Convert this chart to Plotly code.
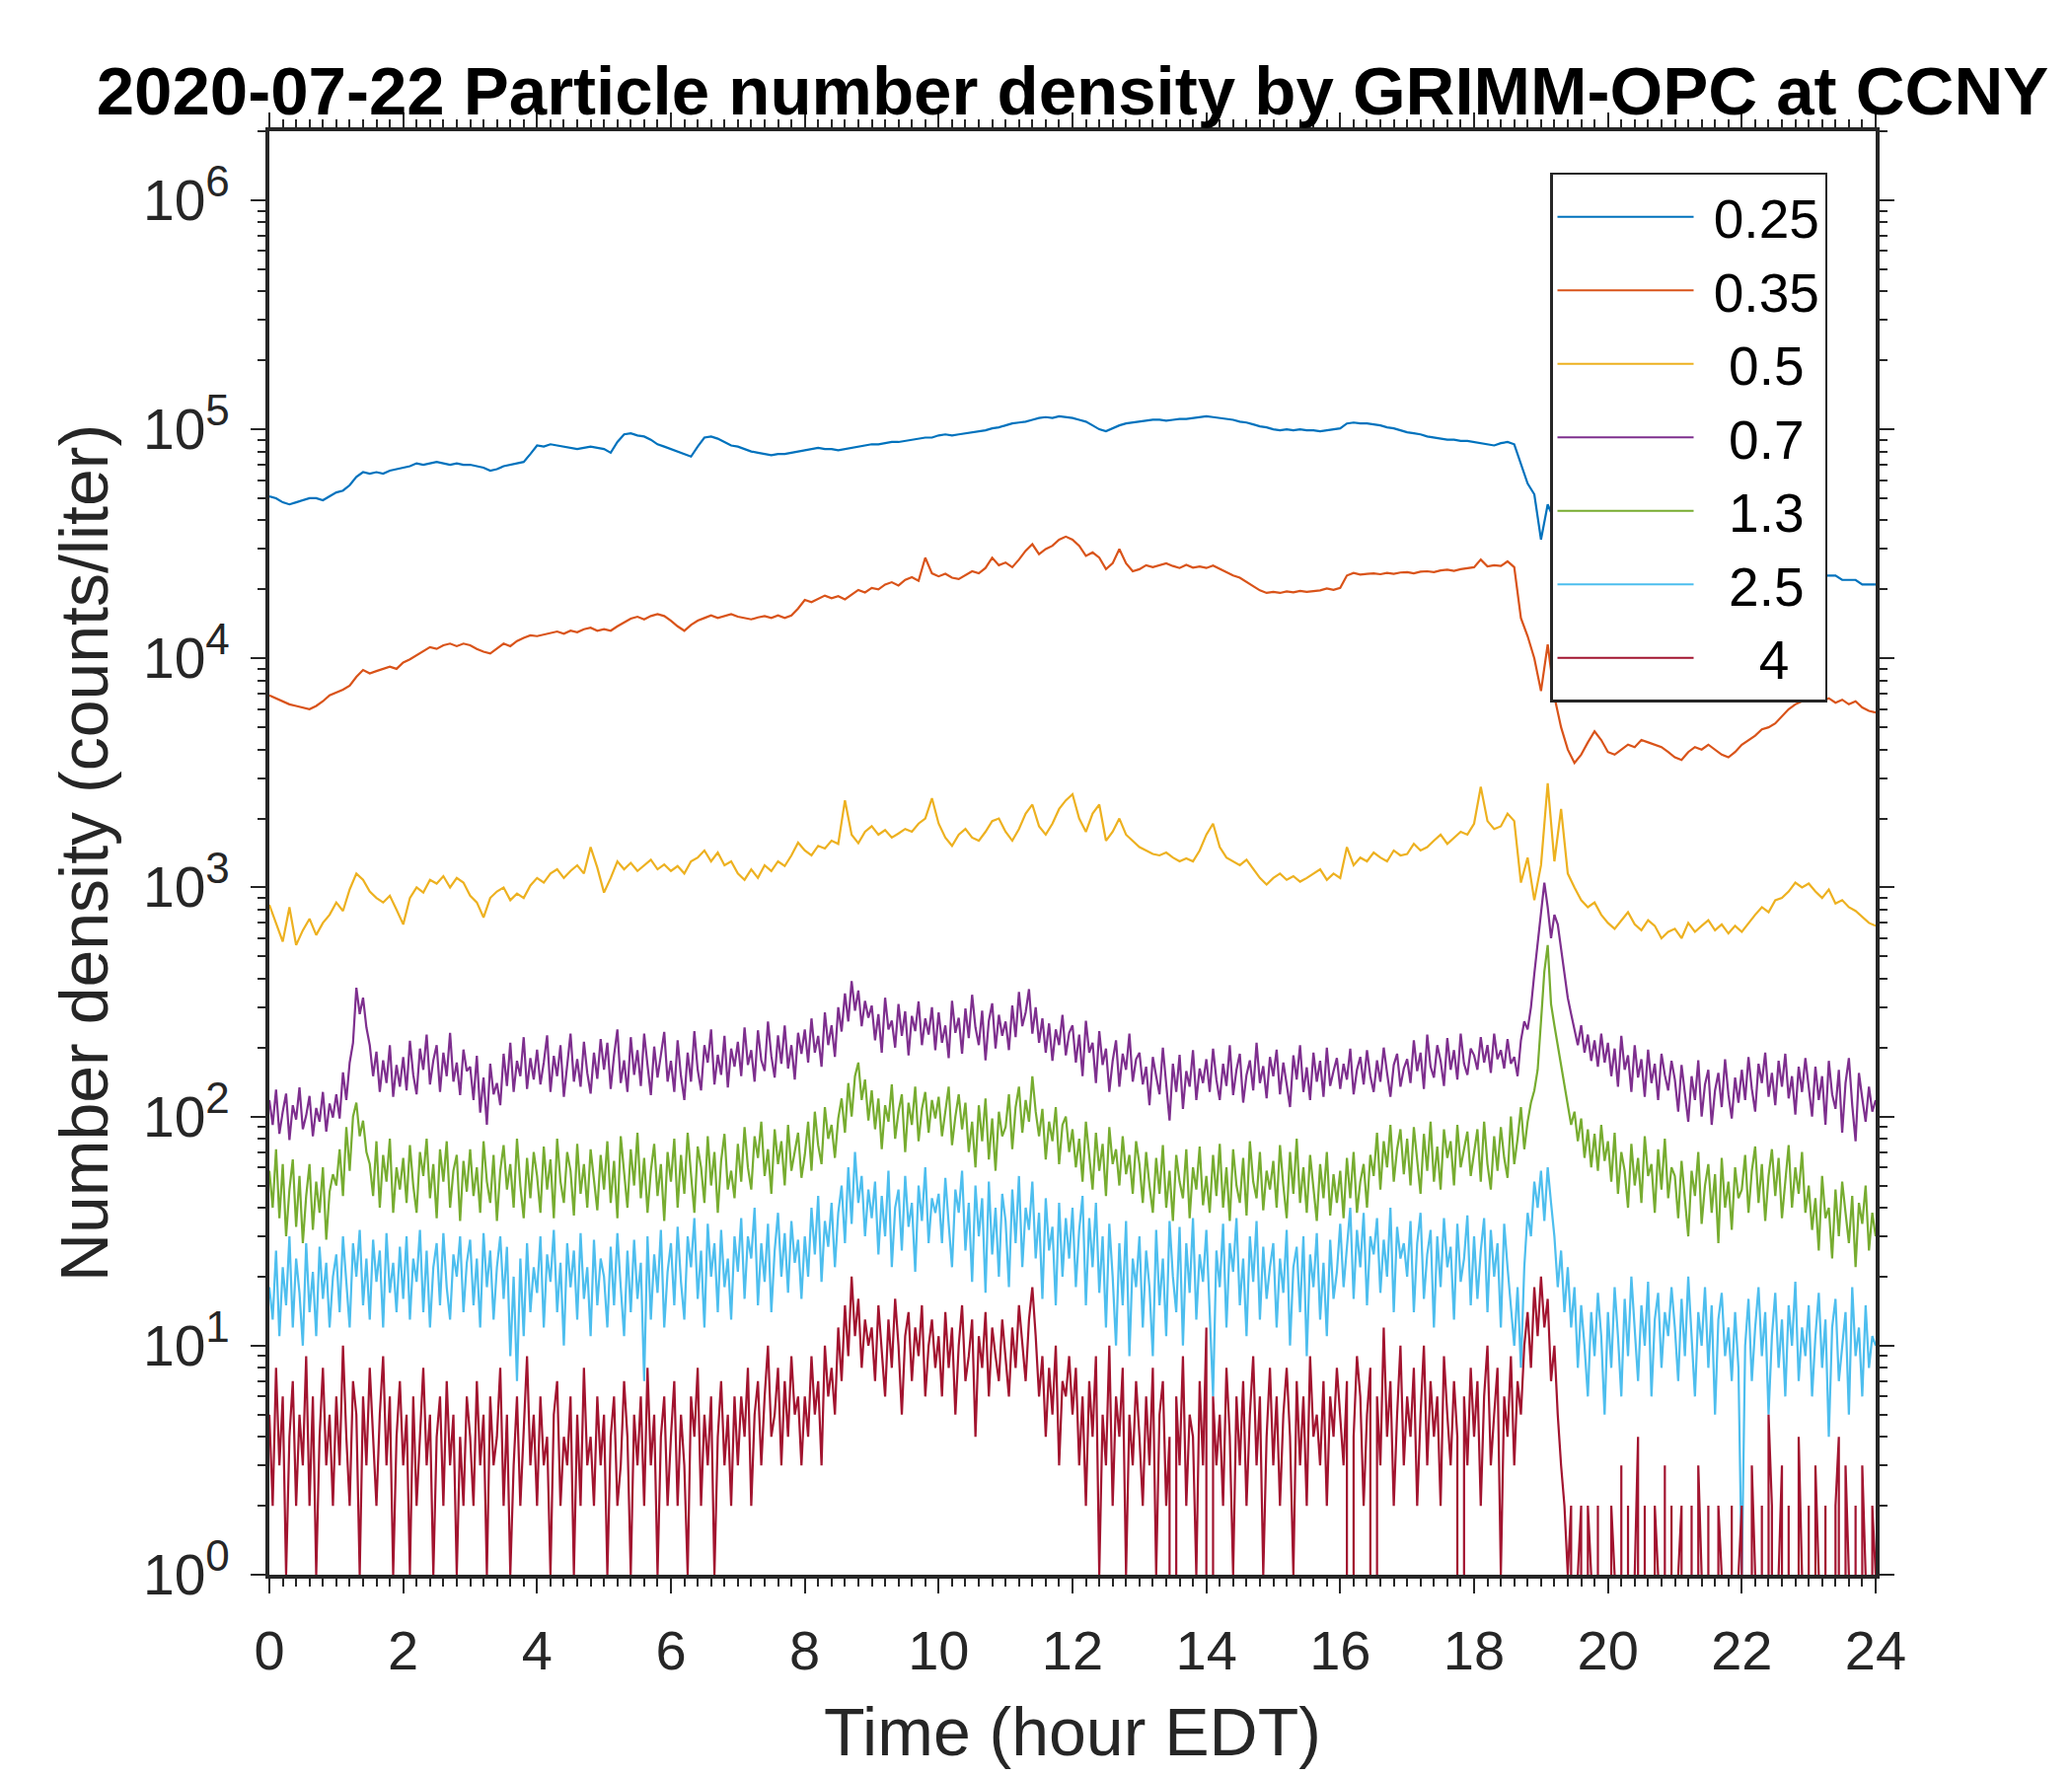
import plotly.graph_objects as go

# ---------------- data (counts per liter) ----------------
# 0.25, 0.35 and 0.5 um channels: one value every 0.1 h (0.0 ... 24.0)
n_025 = [
    51000, 50000, 48000, 47000, 48000, 49000, 50000, 50000, 49000, 51000,
    53000, 54000, 57000, 62000, 65000, 64000, 65000, 64000, 66000, 67000,
    68000, 69000, 71000, 70000, 71000, 72000, 71000, 70000, 71000, 70000,
    70000, 69000, 68000, 66000, 67000, 69000, 70000, 71000, 72000, 78000,
    85000, 84000, 86000, 85000, 84000, 83000, 82000, 83000, 84000, 83000,
    82000, 79000, 88000, 95000, 96000, 94000, 93000, 90000, 86000, 84000,
    82000, 80000, 78000, 76000, 84000, 92000, 93000, 91000, 88000, 85000,
    84000, 82000, 80000, 79000, 78000, 77000, 78000, 78000, 79000, 80000,
    81000, 82000, 83000, 82000, 82000, 81000, 82000, 83000, 84000, 85000,
    86000, 86000, 87000, 88000, 88000, 89000, 90000, 91000, 92000, 92000,
    94000, 95000, 94000, 95000, 96000, 97000, 98000, 99000, 101000, 102000,
    104000, 106000, 107000, 108000, 110000, 112000, 113000, 112000, 114000, 113000,
    112000, 110000, 108000, 104000, 100000, 98000, 101000, 104000, 106000, 107000,
    108000, 109000, 110000, 110000, 109000, 110000, 111000, 111000, 112000, 113000,
    114000, 113000, 112000, 111000, 110000, 108000, 107000, 105000, 103000, 102000,
    100000, 99000, 100000, 99000, 100000, 99000, 99000, 98000, 99000, 100000,
    101000, 106000, 107000, 106000, 106000, 105000, 104000, 102000, 101000, 99000,
    97000, 96000, 95000, 93000, 92000, 91000, 90000, 90000, 89000, 89000,
    88000, 87000, 86000, 85000, 87000, 88000, 86000, 70000, 58000, 52000,
    33000, 47000, 40000, 36000, 32000, 30000, 29000, 30000, 31000, 30000,
    29000, 28000, 28000, 27000, 27000, 26000, 27000, 28000, 27000, 26000,
    26000, 25000, 25000, 26000, 26000, 25000, 24000, 24000, 25000, 25000,
    25000, 24000, 24000, 25000, 25000, 24000, 24000, 23000, 24000, 24000,
    24000, 24000, 23000, 23000, 23000, 22000, 22000, 22000, 21000, 21000,
    21000,
]

n_035 = [
    6900, 6700, 6500, 6300, 6200, 6100, 6000, 6200, 6500, 6900,
    7100, 7300, 7600, 8300, 8900, 8600, 8800, 9000, 9200, 9000,
    9600, 9900, 10300, 10800, 11200, 11000, 11400, 11600, 11300, 11600,
    11400, 11000, 10700, 10500, 11000, 11600, 11300, 11900, 12300, 12600,
    12500, 12700, 12900, 13100, 12800, 13200, 13000, 13400, 13600, 13200,
    13400, 13200, 13800, 14400, 14900, 15200, 14800, 15300, 15600, 15300,
    14600, 13800, 13200, 14000, 14600, 15000, 15400, 15000, 15300, 15600,
    15200, 15000, 14800, 15100, 15300, 15000, 15400, 15000, 15400, 16500,
    18000, 17600, 18200, 18800, 18300, 18700, 18100, 19000, 19900, 19400,
    20300, 20000, 21000, 21500, 20800, 22000, 22600, 21800, 27500, 23500,
    22800, 23400, 22500, 22200, 23000, 24000, 23500, 24800, 27500, 25500,
    26200, 25000, 27000, 29500, 31500, 28500, 30000, 31000, 33000, 34000,
    33000, 31000, 28000, 29000, 27500, 24500, 26000, 30000, 26000, 24000,
    24500, 25500, 25000, 25500, 26000, 25300, 24800, 25600, 24900, 25200,
    24800, 25400, 24600, 23800, 23000, 22500, 21600, 20800, 19800, 19300,
    19500, 19300, 19600, 19400, 19700, 19500, 19600, 19800, 20200, 19900,
    20300, 23000, 23600, 23200, 23400, 23500, 23300, 23600, 23400, 23700,
    23800, 23500, 23900, 24000, 23800, 24200, 24400, 24100, 24500, 24700,
    25000, 27000, 25200, 25500, 25300, 26500, 25000, 15000, 12500, 10000,
    7200, 11500, 6800, 5000, 4000, 3500, 3800, 4300, 4800, 4400,
    3900, 3800, 4000, 4200, 4100, 4400, 4300, 4200, 4100, 3900,
    3700, 3600, 3900, 4100, 4000, 4200, 4000, 3800, 3700, 3900,
    4200, 4400, 4600, 4900, 5000, 5200, 5600, 6000, 6300, 6500,
    6600, 6800, 6500, 6700, 6400, 6600, 6300, 6500, 6100, 5900,
    5800,
]

n_05 = [
    840, 700, 580, 820, 560, 650, 730, 620, 700, 760,
    860, 790, 980, 1150, 1080, 960, 900, 860, 920, 800,
    690, 900, 1000, 950, 1080, 1040, 1120, 1000, 1100, 1050,
    920, 860, 740, 900, 960, 1000, 880, 940, 900, 1020,
    1100, 1050, 1150, 1200, 1100, 1180, 1250, 1150, 1500, 1220,
    950, 1100, 1300, 1200, 1280, 1180, 1250, 1320, 1200, 1260,
    1180, 1240, 1150, 1300, 1350, 1450, 1300, 1420, 1250, 1300,
    1150, 1080, 1200, 1100, 1250, 1180, 1300, 1240, 1380, 1570,
    1450, 1380, 1520, 1480, 1600, 1550, 2400, 1700, 1560, 1750,
    1850, 1700, 1780, 1650, 1720, 1800, 1750, 1900, 2000, 2450,
    1900, 1650, 1520, 1700, 1800, 1650, 1600, 1750, 1950, 2000,
    1750, 1600, 1800, 2100, 2300, 1850, 1700, 1900, 2200, 2400,
    2550, 2000, 1750, 2100, 2300, 1600, 1750, 2000, 1700, 1600,
    1500, 1450, 1400, 1380, 1420, 1350, 1300, 1340, 1300, 1450,
    1700, 1900, 1500, 1350, 1300, 1250, 1320, 1200, 1100, 1030,
    1100, 1150, 1080, 1120, 1060, 1100, 1150, 1200, 1080, 1150,
    1100, 1500, 1250, 1350, 1300, 1420, 1350, 1300, 1450, 1380,
    1400, 1550, 1450, 1500, 1600, 1700, 1550, 1650, 1750, 1700,
    1900, 2750, 1950, 1800, 1850, 2100, 1950, 1050, 1350, 880,
    1250, 2850, 1300, 2200, 1150, 1000, 880, 820, 860, 760,
    700, 660, 720, 780, 690, 650, 720, 680, 600, 640,
    660, 600, 700, 640, 680, 720, 650, 690, 630, 680,
    640, 700, 760, 820, 780, 880, 900, 960, 1050, 1000,
    1040, 960, 900, 980, 850, 880, 820, 790, 740, 700,
    680,
]

# 0.7, 1.3, 2.5 and 4 um channels: one value every 0.05 h (0.00 ... 24.00)
n_07 = [
    118, 92, 131, 84, 105, 126, 79, 112, 97, 134, 88, 101, 123, 82, 109, 95, 128, 86, 114, 99,
    125, 98, 156, 118, 172, 210, 365, 280, 330, 245, 205, 150, 192, 128, 176, 140, 205, 122, 168, 135,
    182, 130, 214, 152, 125, 198, 160, 228, 138, 176, 205, 128, 190, 150, 232, 142, 172, 124, 196, 158,
    165, 118, 184, 104, 148, 92, 170, 125, 140, 112, 188, 136, 210, 128, 175, 150, 222, 132, 180, 145,
    196, 138, 172, 226, 128, 184, 150, 205, 122, 166, 230, 142, 178, 135, 212, 155, 126, 190, 146, 218,
    160, 210, 132, 185, 240, 140, 176, 128, 222, 152, 195, 136, 230, 168, 124, 202, 148, 186, 234, 142,
    175, 128, 215, 150, 118, 190, 142, 236, 160, 130, 205, 172, 240, 138, 186, 152, 225, 134, 198, 165,
    212, 150, 245, 168, 195, 142, 238, 176, 158, 260, 184, 148, 226, 170, 250, 162, 205, 145, 232, 188,
    240, 172, 268, 190, 225, 165, 285, 205, 250, 182, 300, 235, 345, 260, 390, 290, 355, 248, 320, 270,
    305, 215, 280, 190, 330, 240, 262, 200, 310, 225, 288, 185, 275, 236, 318, 205, 268, 228, 300, 195,
    285, 210, 250, 180, 320, 232, 270, 188, 296, 220, 340, 245, 205, 290, 176, 262, 312, 198, 278, 225,
    260, 195, 305, 222, 350, 248, 285, 360, 230, 300, 210, 268, 190, 255, 175, 240, 205, 278, 185, 232,
    250, 172, 228, 150, 262, 190, 210, 140, 236, 168, 198, 128, 175, 215, 135, 188, 160, 230, 142, 178,
    190, 138, 165, 112, 182, 150, 125, 200, 142, 96, 170, 128, 186, 108, 158, 135, 195, 118, 162, 140,
    178, 128, 198, 145, 118, 170, 136, 205, 124, 160, 188, 115, 152, 176, 130, 210, 140, 166, 120, 182,
    150, 196, 125, 172, 138, 110, 185, 145, 205, 128, 164, 118, 190, 142, 175, 122, 200, 136, 158, 180,
    132, 170, 145, 198, 125, 160, 182, 138, 195, 150, 128, 176, 142, 200, 155, 122, 168, 188, 135, 162,
    178, 140, 215, 158, 190, 132, 228, 165, 148, 205, 175, 136, 220, 160, 195, 145, 230, 170, 152, 198,
    185, 160, 222, 172, 205, 155, 230, 178, 195, 162, 218, 170, 182, 150, 215, 260, 240, 300, 420, 560,
    780, 1050, 820, 600, 760, 690, 540, 420, 330, 280, 240, 205, 250, 190, 228, 175, 215, 165, 230, 172,
    210, 150, 198, 135, 225, 160, 185, 128, 205, 148, 178, 122, 196, 140, 170, 118, 188, 152, 130, 175,
    145, 105, 168, 122, 95, 150, 118, 176, 100, 138, 160, 92, 130, 155, 110, 178, 125, 98, 148, 115,
    160, 118, 182, 132, 105, 170, 140, 190, 122, 155, 112, 175, 135, 188, 120, 150, 102, 165, 128, 180,
    138, 100, 165, 118, 150, 92, 175, 125, 108, 160, 85, 140, 180, 112, 78, 155, 120, 95, 135, 105,
    118,
]

n_13 = [
    58, 40, 72, 36, 62, 30, 48, 65, 33, 55, 28, 45, 62, 32, 52, 38, 60, 29, 47, 56,
    50, 72, 45, 90, 58, 100, 115, 82, 96, 70, 62, 45, 78, 40, 68, 52, 80, 38, 60, 48,
    66, 42, 75, 50, 38, 70, 55, 80, 44, 62, 36, 72, 52, 78, 40, 58, 68, 35, 64, 47,
    72, 45, 60, 38, 78, 52, 42, 68, 35, 58, 75, 48, 62, 40, 80, 50, 36, 66, 44, 70,
    55, 38, 74, 48, 65, 36, 80, 52, 42, 70, 58, 37, 76, 46, 62, 40, 72, 54, 39, 68,
    48, 78, 42, 64, 36, 82, 55, 40, 72, 50, 85, 44, 66, 38, 58, 76, 45, 62, 35, 70,
    52, 80, 40, 68, 46, 85, 56, 38, 74, 60, 42, 82, 50, 70, 38, 64, 84, 48, 58, 44,
    76, 52, 90, 60, 48, 82, 66, 95, 55, 72, 46, 88, 62, 78, 50, 92, 58, 70, 85, 54,
    68, 95, 58, 105, 75, 62, 110, 80, 92, 66, 98, 120, 85, 140, 100, 150, 172, 118, 145, 96,
    130, 88, 120, 72, 112, 95, 138, 80, 105, 125, 70, 115, 92, 135, 78, 108, 128, 85, 118, 98,
    122, 82, 108, 135, 75, 100, 125, 88, 115, 70, 95, 60, 112, 78, 120, 65, 98, 58, 105, 82,
    90, 125, 72, 110, 135, 85, 118, 95, 150, 105, 82, 108, 65, 95, 78, 110, 62, 92, 100, 70,
    88, 60, 80, 52, 95, 68, 48, 85, 58, 76, 45, 90, 62, 72, 50, 82, 56, 68, 46, 78,
    62, 42, 70, 50, 38, 66, 46, 75, 40, 58, 35, 68, 52, 44, 72, 36, 60, 48, 74, 41,
    55, 38, 68, 45, 76, 40, 60, 35, 72, 50, 42, 66, 37, 78, 52, 44, 70, 39, 58, 48,
    64, 40, 75, 50, 36, 70, 46, 80, 42, 60, 38, 68, 48, 35, 62, 44, 70, 37, 56, 42,
    58, 36, 66, 44, 70, 38, 52, 62, 40, 68, 55, 85, 48, 78, 60, 92, 52, 72, 88, 56,
    80, 50, 90, 62, 46, 84, 58, 95, 52, 74, 48, 88, 66, 78, 50, 92, 60, 72, 86, 55,
    70, 88, 52, 95, 62, 48, 82, 58, 90, 66, 54, 100, 62, 80, 110, 72, 95, 115, 130, 160,
    260, 430, 560, 310, 250, 205, 165, 135, 112, 92, 105, 78, 98, 66, 88, 60, 84, 58, 92, 64,
    78, 52, 85, 46, 70, 58, 40, 76, 50, 66, 42, 82, 55, 62, 38, 72, 48, 80, 44, 60,
    55, 36, 64, 42, 30, 58, 45, 70, 34, 50, 62, 38, 56, 28, 66, 40, 52, 32, 60, 44,
    48, 68, 38, 58, 74, 42, 62, 35, 55, 72, 45, 66, 36, 52, 75, 40, 60, 46, 70, 38,
    50, 32, 44, 26, 55, 36, 40, 24, 48, 30, 52, 38, 28, 45, 22, 42, 34, 50, 26, 38,
    30,
]

n_25 = [
    18, 13, 26, 11, 22, 15, 30, 12, 24, 17, 10, 28, 14, 21, 11, 27, 16, 23, 12, 20,
    25, 14, 30, 18, 12, 28, 20, 32, 15, 24, 13, 29, 19, 26, 12, 31, 17, 23, 14, 27,
    16, 30, 13, 24, 19, 32, 14, 26, 12, 22, 28, 15, 31, 18, 13, 25, 20, 30, 14, 23,
    29, 15, 24, 12, 31, 18, 26, 13, 22, 30, 16, 27, 9, 20, 7, 24, 11, 28, 14, 22,
    17, 30, 12, 25, 19, 32, 14, 23, 10, 28, 18, 26, 13, 31, 16, 22, 11, 29, 15, 24,
    20, 12, 27, 15, 31, 18, 11, 26, 14, 29, 16, 23, 7, 30, 13, 25, 17, 32, 12, 21,
    28, 15, 33, 19, 13, 30, 22, 36, 16, 26, 12, 34, 20, 28, 14, 32, 18, 24, 13, 30,
    21, 36, 16, 30, 24, 40, 15, 28, 19, 34, 14, 26, 38, 20, 31, 17, 35, 23, 29, 16,
    30, 20, 40, 25, 45, 19, 35, 27, 42, 22, 38, 50, 28, 60, 34, 70, 42, 55, 30, 48,
    36, 52, 25, 45, 30, 58, 22, 40, 48, 26, 55, 33, 42, 21, 50, 35, 60, 28, 44, 38,
    46, 28, 54, 34, 22, 48, 38, 58, 26, 42, 19, 50, 30, 44, 17, 52, 25, 40, 20, 46,
    35, 18, 48, 28, 55, 22, 40, 32, 52, 24, 38, 16, 44, 26, 33, 15, 42, 20, 36, 24,
    40, 18, 32, 45, 15, 36, 22, 42, 17, 30, 12, 34, 20, 10, 28, 15, 35, 9, 24, 18,
    30, 12, 26, 18, 9, 32, 15, 24, 11, 35, 20, 14, 33, 10, 28, 17, 36, 13, 25, 19,
    32, 14, 6, 26, 18, 34, 12, 28, 21, 36, 15, 24, 11, 30, 19, 35, 13, 27, 16, 22,
    28, 12, 24, 17, 32, 10, 22, 27, 14, 30, 9, 25, 18, 31, 13, 23, 11, 29, 16, 21,
    34, 18, 28, 40, 16, 32, 22, 38, 15, 30, 25, 36, 17, 29, 20, 40, 14, 33, 24, 28,
    20, 35, 14, 28, 38, 16, 25, 32, 12, 30, 18, 36, 22, 27, 13, 34, 19, 24, 37, 15,
    30, 16, 26, 36, 14, 32, 20, 28, 12, 34, 22, 15, 10, 18, 8, 22, 38, 30, 52, 40,
    58, 35, 60, 42, 30, 18, 26, 14, 22, 12, 18, 8, 15, 10, 6, 14, 9, 17, 11, 5,
    14, 8, 18, 11, 6, 16, 9, 20, 12, 7, 15, 10, 19, 6, 13, 17, 8, 14, 11, 18,
    12, 7, 16, 9, 20, 11, 6, 14, 10, 18, 8, 15, 5, 13, 17, 9, 12, 7, 14, 8,
    1, 10, 16, 7, 12, 18, 9, 14, 5, 11, 17, 8, 13, 6, 15, 10, 19, 7, 12, 9,
    15, 6, 11, 17, 8, 13, 4, 12, 16, 7, 10, 14, 5, 18, 9, 12, 6, 15, 8, 11,
    10,
]

n_4 = [
    5, 2, 8, 3, 6, 1, 4, 7, 2, 5, 3, 9, 2, 6, 1, 4, 8, 3, 5, 2,
    6, 3, 10, 4, 2, 7, 5, 1, 6, 3, 8, 4, 2, 5, 9, 3, 6, 1, 4, 7,
    3, 5, 1, 6, 2, 4, 8, 3, 5, 1, 4, 6, 2, 7, 3, 5, 1, 4, 2, 6,
    4, 2, 7, 3, 5, 1, 6, 3, 4, 8, 2, 5, 1, 3, 6, 2, 4, 9, 3, 5,
    2, 6, 3, 4, 1, 5, 7, 2, 4, 3, 6, 1, 5, 2, 8, 3, 4, 2, 6, 3,
    5, 1, 4, 6, 2, 3, 7, 4, 1, 5, 3, 6, 2, 8, 3, 5, 1, 4, 6, 2,
    4, 7, 2, 5, 3, 1, 6, 4, 8, 2, 5, 3, 6, 1, 4, 7, 3, 5, 2, 6,
    3, 6, 4, 8, 2, 5, 7, 3, 6, 10, 4, 5, 8, 3, 7, 4, 9, 5, 6, 3,
    6, 4, 9, 5, 7, 3, 10, 6, 8, 5, 12, 7, 15, 9, 20, 11, 16, 8, 13, 10,
    12, 7, 15, 9, 6, 13, 8, 16, 10, 5, 11, 14, 7, 12, 9, 15, 6, 10, 13, 8,
    11, 6, 14, 8, 12, 5, 10, 15, 7, 9, 13, 4, 11, 8, 14, 6, 12, 9, 7, 13,
    9, 6, 12, 8, 15, 10, 7, 13, 18, 11, 6, 9, 4, 8, 5, 10, 3, 7, 6, 9,
    5, 8, 3, 6, 2, 7, 4, 9, 1, 5, 3, 10, 2, 6, 4, 8, 1, 5, 3, 7,
    4, 2, 6, 3, 8, 1, 5, 7, 2, 4, 0, 6, 3, 9, 2, 5, 4, 1, 7, 3,
    12, 0, 6, 3, 5, 2, 8, 4, 1, 6, 3, 7, 2, 5, 9, 3, 6, 1, 4, 8,
    3, 6, 2, 5, 8, 4, 1, 7, 3, 6, 2, 9, 4, 5, 3, 7, 2, 6, 4, 8,
    5, 3, 7, 0, 4, 9, 6, 2, 5, 8, 0, 6, 3, 12, 4, 7, 2, 5, 10, 3,
    6, 4, 8, 2, 5, 10, 3, 7, 4, 6, 2, 9, 5, 3, 7, 4, 0, 6, 3, 8,
    4, 7, 2, 6, 10, 3, 5, 8, 1, 6, 4, 9, 3, 7, 5, 10, 14, 8, 18, 11,
    20, 12, 16, 7, 10, 5, 3, 2, 1, 2, 0, 1, 2, 0, 2, 1, 0, 2, 0, 1,
    0, 2, 1, 0, 3, 0, 2, 0, 1, 4, 0, 2, 0, 0, 2, 1, 0, 3, 0, 2,
    0, 1, 2, 0, 0, 2, 0, 3, 1, 0, 2, 0, 0, 2, 1, 0, 0, 2, 0, 1,
    2, 0, 0, 3, 1, 0, 2, 0, 5, 2, 0, 1, 3, 0, 2, 0, 0, 4, 1, 0,
    2, 0, 3, 1, 0, 2, 0, 0, 2, 4, 0, 3, 1, 0, 2, 0, 3, 1, 0, 2,
    1,
]

size_labels = ["0.25", "0.35", "0.5", "0.7", "1.3", "2.5", "4"]
NB = "\u00a0"
legend_labels = [NB + "0.25", NB + "0.35", NB * 2 + "0.5", NB * 2 + "0.7",
                 NB * 2 + "1.3", NB * 2 + "2.5", NB * 4 + "4"]
series_values = [n_025, n_035, n_05, n_07, n_13, n_25, n_4]
sample_step_h = [0.1, 0.1, 0.1, 0.05, 0.05, 0.05, 0.05]
line_colors = ["#0072BD", "#D95319", "#EDB120", "#7E2F8E", "#77AC30", "#4DBEEE", "#A2142F"]

x_tick_vals = list(range(0, 25, 2))
y_tick_vals = [1, 10, 100, 1000, 10000, 100000, 1000000]
y_tick_text = ['10<sup><span style="font-size:44px">%d</span></sup>' % k for k in range(7)]
y_minor_vals = [m * d for d in [1, 10, 100, 1000, 10000, 100000, 1000000] for m in range(2, 10)
                if m * d <= 2000000]

AXIS_COLOR = "#262626"
FONT = "Liberation Sans, Arial, Helvetica, sans-serif"

fig = go.Figure()
for name, label, vals, step, color in zip(size_labels, legend_labels, series_values,
                                           sample_step_h, line_colors):
    hours = [round(i * step, 2) for i in range(len(vals))]
    fig.add_trace(go.Scatter(x=hours, y=vals, mode="lines", name=label,
                             line=dict(color=color, width=2.2),
                             hovertemplate=name + " um: %{y}<extra></extra>"))

fig.update_layout(
    width=2100, height=1800,
    margin=dict(l=273, r=199, t=133, b=204, pad=0),
    paper_bgcolor="white", plot_bgcolor="white",
    font=dict(family=FONT, color=AXIS_COLOR),
    title=dict(text="<b>2020-07-22 Particle number density by GRIMM-OPC at CCNY</b>",
               x=0.5, xref="paper", xanchor="center",
               y=1.0, yref="paper", yanchor="bottom", pad=dict(b=17),
               font=dict(family=FONT, size=69, color="black")),
    showlegend=True,
    legend=dict(x=0.7973, y=0.9713, xanchor="left", yanchor="top",
                bgcolor="white", bordercolor=AXIS_COLOR, borderwidth=2.5,
                font=dict(family=FONT, size=55, color="black"),
                itemwidth=138, tracegroupgap=0, traceorder="normal"),
    xaxis=dict(range=[0, 24], tickmode="array", tickvals=x_tick_vals,
               ticks="outside", ticklen=15, tickwidth=2, tickcolor=AXIS_COLOR,
               ticklabelstandoff=10,
               showline=True, linecolor=AXIS_COLOR, linewidth=3.5, mirror="allticks",
               showgrid=False, zeroline=False,
               tickfont=dict(family=FONT, size=56, color=AXIS_COLOR),
               title=dict(text="Time (hour EDT)", standoff=29,
                          font=dict(family=FONT, size=68, color=AXIS_COLOR)),
               minor=dict(tickmode="linear", tick0=0, dtick=0.2, ticks="outside",
                          ticklen=8, tickwidth=2, tickcolor=AXIS_COLOR, showgrid=False)),
    yaxis=dict(type="log", range=[0, 6.30103], tickmode="array",
               tickvals=y_tick_vals, ticktext=y_tick_text,
               ticks="outside", ticklen=15, tickwidth=2, tickcolor=AXIS_COLOR,
               ticklabelstandoff=10,
               showline=True, linecolor=AXIS_COLOR, linewidth=3.5, mirror="allticks",
               showgrid=False, zeroline=False,
               tickfont=dict(family=FONT, size=57, color=AXIS_COLOR),
               title=dict(text="Number density (counts/liter)", standoff=14,
                          font=dict(family=FONT, size=68, color=AXIS_COLOR)),
               minor=dict(tickmode="array", tickvals=y_minor_vals, ticks="outside",
                          ticklen=8, tickwidth=2, tickcolor=AXIS_COLOR, showgrid=False)),
)

fig.write_html("out.html", config={"displayModeBar": False},
               post_script="document.body.style.margin='0';")
